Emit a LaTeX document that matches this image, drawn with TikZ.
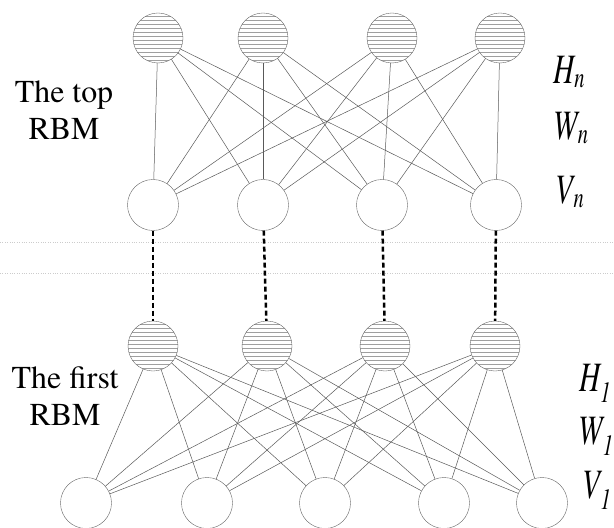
\documentclass[tikz,border=0pt]{standalone}
\usepackage{fontspec}
\setmainfont{texgyretermes}[Extension=.otf, UprightFont=*-regular, ItalicFont=*-italic, BoldFont=*-bold]
\usetikzlibrary{patterns.meta}
\tikzstyle{hnode}=[circle, draw=gray!80!black, thin, minimum size=50bp, inner sep=0pt, pattern={Lines[distance=4bp, line width=0.5bp]}, pattern color=gray!75]
\tikzstyle{vnode}=[circle, draw=gray!80!black, thin, fill=white, minimum size=51bp, inner sep=0pt]
\tikzstyle{weight}=[gray!70!black, line width=0.5bp]
\tikzstyle{stack}=[line width=2.5bp, dash pattern=on 5bp off 3bp]
\tikzstyle{layerlabel}=[font=\fontsize{42}{42}\selectfont\itshape, xscale=0.7]
\tikzstyle{rbmtext}=[align=center, font=\fontsize{32}{37}\selectfont]

\begin{document}
\begin{tikzpicture}[x=1bp, y=-1bp]
    \useasboundingbox (0, 0) rectangle (614, 528);
% Layers
    \node[hnode] (ht1) at (158, 38) {};
    \node[hnode] (ht2) at (263, 38) {};
    \node[hnode] (ht3) at (392, 38) {};
    \node[hnode] (ht4) at (500, 38) {};
    \node[vnode] (vt1) at (153, 205) {};
    \node[vnode] (vt2) at (263, 205) {};
    \node[vnode] (vt3) at (382, 205) {};
    \node[vnode] (vt4) at (496, 205) {};
    \node[hnode] (hb1) at (153, 346) {};
    \node[hnode] (hb2) at (267, 346) {};
    \node[hnode] (hb3) at (385, 346) {};
    \node[hnode] (hb4) at (495, 346) {};
    \node[vnode] (vb1) at (86, 503) {};
    \node[vnode] (vb2) at (207, 503) {};
    \node[vnode] (vb3) at (325, 503) {};
    \node[vnode] (vb4) at (444, 503) {};
    \node[vnode] (vb5) at (542, 503) {};
% Separators
    \draw[gray!40, dotted] (0, 242) -- (614, 242);
    \draw[gray!40, dotted] (0, 273) -- (614, 273);
% Weights of the top RBM
    \draw[weight] (ht1) -- (vt1);
    \draw[weight] (ht1) -- (vt2);
    \draw[weight] (ht1) -- (vt3);
    \draw[weight] (ht1) -- (vt4);
    \draw[weight] (ht2) -- (vt1);
    \draw[weight] (ht2) -- (vt2);
    \draw[weight] (ht2) -- (vt3);
    \draw[weight] (ht2) -- (vt4);
    \draw[weight] (ht3) -- (vt1);
    \draw[weight] (ht3) -- (vt2);
    \draw[weight] (ht3) -- (vt3);
    \draw[weight] (ht3) -- (vt4);
    \draw[weight] (ht4) -- (vt1);
    \draw[weight] (ht4) -- (vt2);
    \draw[weight] (ht4) -- (vt3);
    \draw[weight] (ht4) -- (vt4);
% Weights of the first RBM
    \draw[weight] (hb1) -- (vb1);
    \draw[weight] (hb1) -- (vb2);
    \draw[weight] (hb1) -- (vb3);
    \draw[weight] (hb1) -- (vb4);
    \draw[weight] (hb1) -- (vb5);
    \draw[weight] (hb2) -- (vb1);
    \draw[weight] (hb2) -- (vb2);
    \draw[weight] (hb2) -- (vb3);
    \draw[weight] (hb2) -- (vb4);
    \draw[weight] (hb2) -- (vb5);
    \draw[weight] (hb3) -- (vb1);
    \draw[weight] (hb3) -- (vb2);
    \draw[weight] (hb3) -- (vb3);
    \draw[weight] (hb3) -- (vb4);
    \draw[weight] (hb3) -- (vb5);
    \draw[weight] (hb4) -- (vb1);
    \draw[weight] (hb4) -- (vb2);
    \draw[weight] (hb4) -- (vb3);
    \draw[weight] (hb4) -- (vb4);
    \draw[weight] (hb4) -- (vb5);
% Stacked layers
    \draw[stack] (vt1) -- (hb1);
    \draw[stack] (vt2) -- (hb2);
    \draw[stack] (vt3) -- (hb3);
    \draw[stack] (vt4) -- (hb4);
% Labels
    \node[rbmtext] (top) at (64, 110) {The top\\RBM};
    \node[rbmtext] (first) at (65, 396) {The first\\RBM};
    \node[layerlabel] (hn) at (569, 72) {H\textsubscript{n}};
    \node[layerlabel] (wn) at (571, 128) {W\textsubscript{n}};
    \node[layerlabel] (vn) at (570, 192) {V\textsubscript{n}};
    \node[layerlabel] (h1) at (595, 383) {H\textsubscript{1}};
    \node[layerlabel] (w1) at (596, 436) {W\textsubscript{1}};
    \node[layerlabel] (v1) at (597, 490) {V\textsubscript{1}};
\end{tikzpicture}
\end{document}
